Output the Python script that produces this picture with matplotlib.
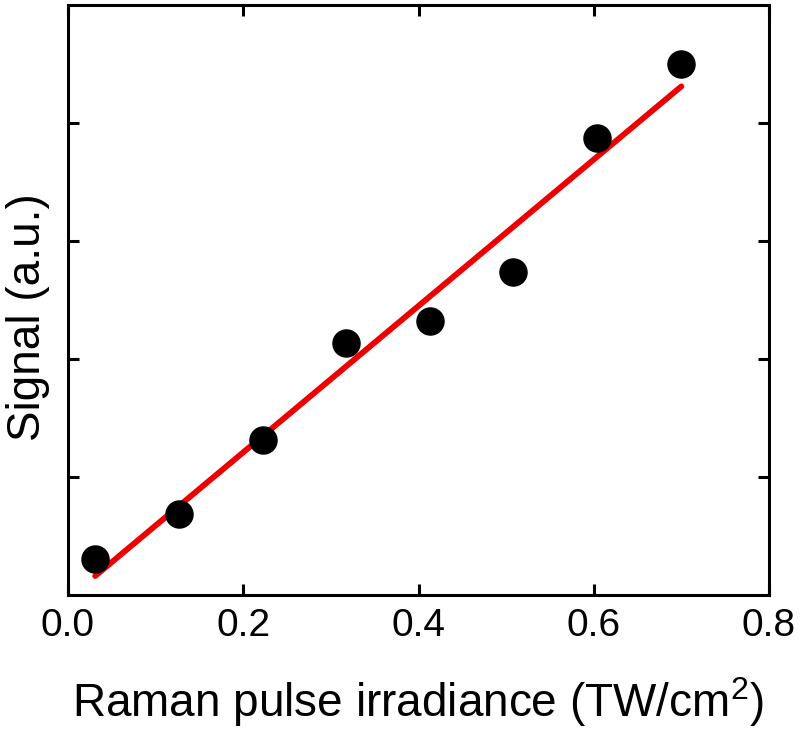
import numpy as np
import matplotlib
matplotlib.use("Agg")
import matplotlib.pyplot as plt

plt.rcParams['font.family'] = ['Liberation Sans', 'DejaVu Sans']
plt.rcParams['mathtext.fontset'] = 'custom'
plt.rcParams['mathtext.rm'] = 'Liberation Sans'
plt.rcParams['mathtext.it'] = 'Liberation Sans:italic'
plt.rcParams['mathtext.bf'] = 'Liberation Sans:bold'

irradiance = [0.031, 0.127, 0.222, 0.317, 0.413, 0.508, 0.604, 0.700]
signal = [0.305, 0.686, 1.314, 2.136, 2.322, 2.737, 3.873, 4.50]
x_ticks = [0.0, 0.2, 0.4, 0.6, 0.8]
x_labels = ["0.0", "0.2", "0.4", "0.6", "0.8"]
y_ticks = [1, 2, 3, 4]

W, H = 802, 731
fig = plt.figure(figsize=(W/100, H/100), dpi=100)
ax = fig.add_axes([68/W, 1 - 595/H, (769-68)/W, (595-5)/H])

coef = np.polyfit(irradiance, signal, 1)
xf = np.array([irradiance[0], irradiance[-1]])
ax.plot(xf, np.polyval(coef, xf), color='#ee0000', lw=4.2, solid_capstyle='round', zorder=2)
ax.plot(irradiance, signal, 'o', color='black', markersize=19.5, zorder=3)

ax.set_xlim(0, 0.8)
ax.set_ylim(0, 5)
ax.set_xticks(x_ticks)
ax.set_xticklabels(x_labels)
ax.set_yticks(y_ticks)
ax.set_yticklabels([])
ax.tick_params(axis='both', direction='in', length=8, width=2.2, labelsize=28,
               top=True, right=True, pad=9)
for s in ax.spines.values():
    s.set_linewidth(2.2)

fig.text(418/W, 1 - 717/H, "Raman pulse irradiance (TW/cm$^\\mathrm{2}$)", fontsize=33,
         ha='center', va='baseline')
fig.text(28/W, 1 - 317/H, "Signal (a.u.)", fontsize=33, rotation=90,
         ha='center', va='center')

fig.savefig("out.png", dpi=100)
